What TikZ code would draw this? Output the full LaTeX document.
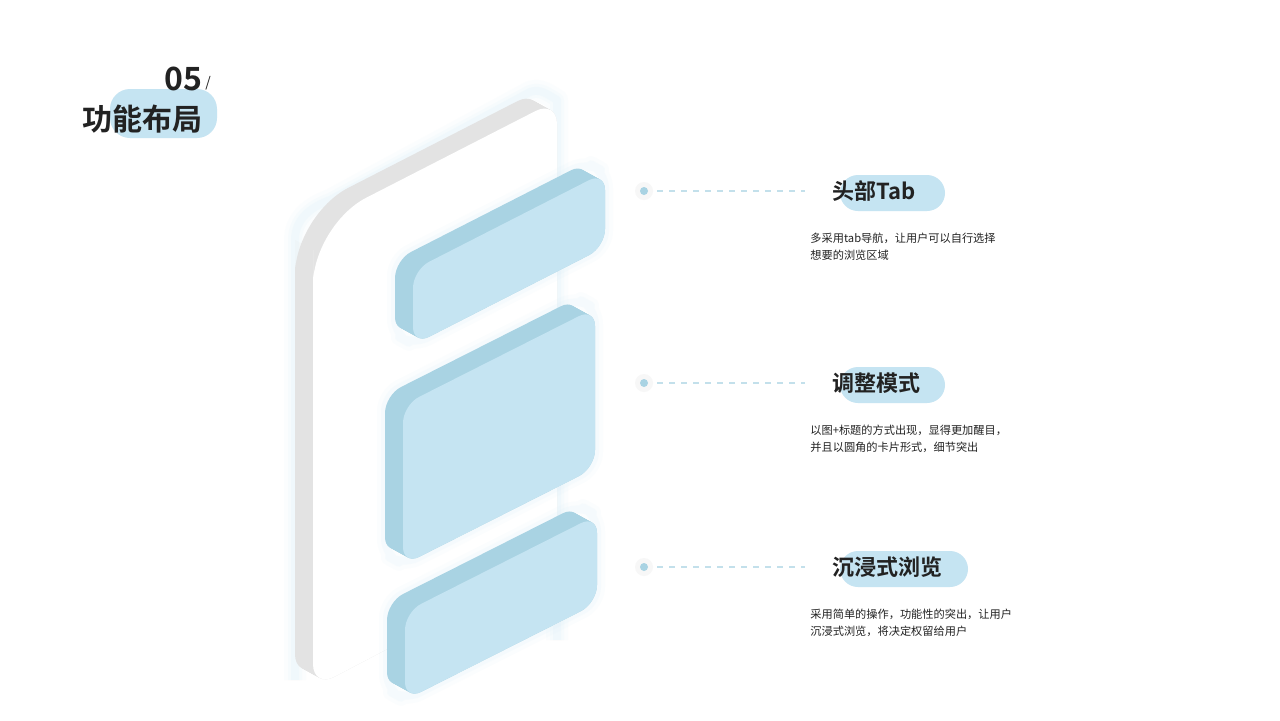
\documentclass[tikz,border=0pt]{standalone}
\usepackage{fontspec}
\usetikzlibrary{calc}
\setmainfont{Noto Sans CJK SC}
\newfontfamily\bfcjk{Noto Sans CJK SC Bold}
\definecolor{front}{HTML}{C5E4F2}
\definecolor{side}{HTML}{A9D3E3}
\definecolor{glow}{HTML}{D8EEF8}
\definecolor{gside}{HTML}{E3E3E3}
\definecolor{hl}{HTML}{C5E4F2}
\definecolor{ink}{HTML}{222222}
\tikzset{
  ttl/.style={font=\bfcjk\fontsize{11}{13}\selectfont, text=ink, anchor=west, inner sep=0},
  desc/.style={font=\fontsize{5.6}{8.2}\selectfont, text=ink, anchor=north west, align=left, inner sep=0},
  dashln/.style={draw=side!70, dashed, line width=0.6pt},
}
\begin{document}
\begin{tikzpicture}[x=0.5pt,y=-0.5pt,line join=round]
\useasboundingbox (0,0) rectangle (1280,720);
\fill[white] (0,0) rectangle (1280,720);
% phone glow
\foreach \w/\o in {22/0.08,14/0.12,8/0.18}{
 \draw[glow, line width=\w*0.5pt, opacity=\o] (295,680) -- (295,240) to[out=90,in=200] (330,200) -- (530,92) to[out=20,in=150] (557,100) -- (557,640);}
% phone side
\foreach \i in {0,...,18}{
 \fill[gside] ($(313,250)+(-\i,-\i*0.55)$) [rounded corners=30] -- ($(313,225)+(-\i,-\i*0.55)$) [rounded corners=12] -- ($(557,100)+(-\i,-\i*0.55)$) -- ($(557,560)+(-\i,-\i*0.55)$) -- ($(313,688)+(-\i,-\i*0.55)$) [rounded corners=0] -- cycle;}
\fill[white] (313,250) [rounded corners=30] -- (313,225) [rounded corners=12] -- (557,100) -- (557,560) -- (313,688) [rounded corners=0] -- cycle;
% blocks
\foreach \a/\b/\c/\d/\e/\f in {413/270/605/172/75/0, 403/405/595/308/160/0, 405/612/597/515/88/0}{
 \foreach \w/\o in {16/0.10,8/0.15}{
  \draw[glow, line width=\w*0.5pt, opacity=\o, rounded corners=8] (\a-18,\b-10) -- (\c-18,\d-10) -- (\c,\d) -- (\c,\d+\e) -- (\a,\b+\e) -- (\a-18,\b+\e-10) -- cycle;}
 \foreach \i in {0,...,18}{
  \fill[side, rounded corners=9] (\a-\i,\b-\i*0.55) -- (\c-\i,\d-\i*0.55) -- (\c-\i,\d+\e-\i*0.55) -- (\a-\i,\b+\e-\i*0.55) -- cycle;}
 \fill[front, rounded corners=9] (\a,\b) -- (\c,\d) -- (\c,\d+\e) -- (\a,\b+\e) -- cycle;
}
% title
\fill[hl, rounded corners=10] (110,89) rectangle (217,138);
\node[font=\bfcjk\fontsize{16}{16}\selectfont, text=ink, anchor=east, inner sep=0] (num) at (203,79) {05};
\node[font=\fontsize{7}{7}\selectfont, text=ink, anchor=west, inner sep=1] (sl) at (num.south east) [yshift=4pt] {/};
\node[font=\bfcjk\fontsize{15}{15}\selectfont, text=ink, anchor=west, inner sep=0] (tt) at (82,119) {功能布局};
% items
\foreach \y/\t/\n/\da/\db/\bw in {191/头部Tab/a/多采用tab导航，让用户可以自行选择/想要的浏览区域/945, 383/调整模式/b/以图+标题的方式出现，显得更加醒目，/并且以圆角的卡片形式，细节突出/945, 567/沉浸式浏览/c/采用简单的操作，功能性的突出，让用户/沉浸式浏览，将决定权留给用户/968}{
 \fill[black!3] (644,\y) circle (9);
 \fill[side] (644,\y) circle (4);
 \coordinate (d\n) at (657,\y);
 \coordinate (e\n) at (805,\y);
 \draw[dashln] (d\n) -- (e\n);
 \fill[hl, rounded corners=9] (840,\y-16) rectangle (\bw,\y+20);
 \node[ttl] (t\n) at (832,\y) {\t};
 \node[desc] (x\n) at (810,\y+42) {\da\\\db};
}
\end{tikzpicture}
\end{document}
